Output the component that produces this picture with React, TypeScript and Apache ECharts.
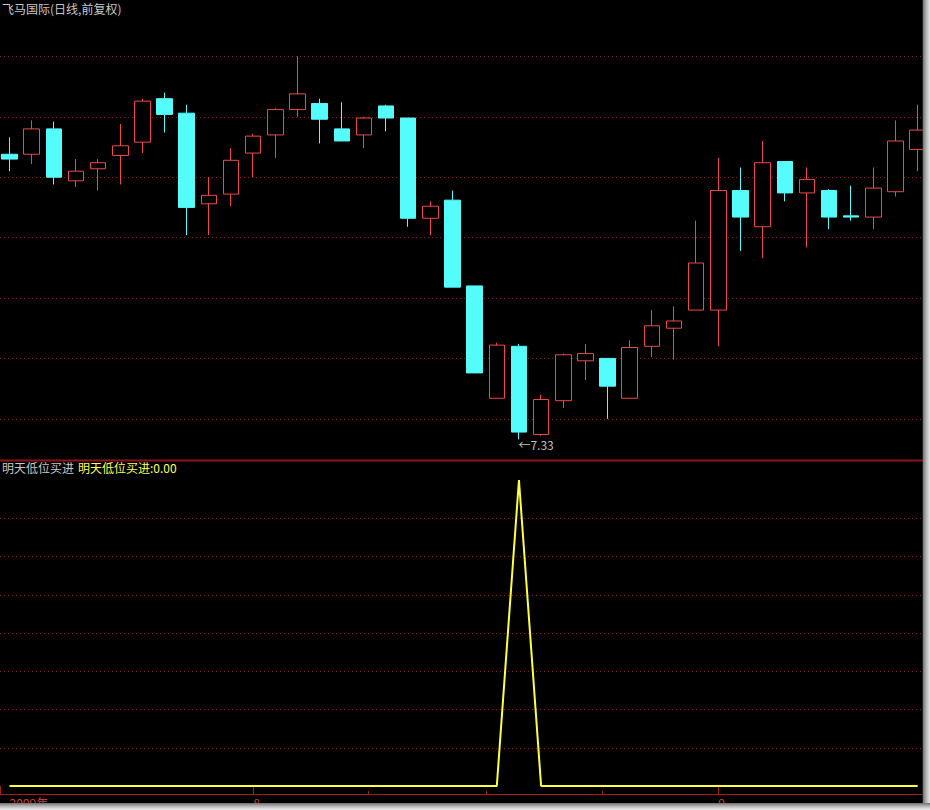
import React, { useEffect, useRef } from "react";
import * as echarts from "echarts";

// ---- data ----
const opens = [9.69, 9.69, 9.90, 9.47, 9.57, 9.68, 9.79, 10.15, 10.03, 9.28, 9.36, 9.70, 9.85, 10.06, 10.11, 9.90, 9.85, 10.09, 9.99, 9.16, 9.31, 8.60, 7.67, 8.10, 7.37, 7.65, 7.98, 8.00, 7.67, 8.10, 8.25, 8.40, 8.40, 9.39, 9.09, 9.63, 9.37, 9.39, 9.18, 9.17, 9.38, 9.73];
const closes = [9.65, 9.90, 9.50, 9.55, 9.62, 9.76, 10.13, 10.02, 9.25, 9.35, 9.64, 9.84, 10.06, 10.19, 9.98, 9.80, 9.99, 9.99, 9.16, 9.26, 8.59, 7.88, 8.11, 7.39, 7.66, 8.03, 8.04, 7.77, 8.09, 8.27, 8.31, 8.79, 9.39, 9.17, 9.62, 9.37, 9.48, 9.17, 9.17, 9.41, 9.80, 9.89];
const lows = [9.55, 9.61, 9.44, 9.42, 9.39, 9.44, 9.70, 9.87, 9.02, 9.02, 9.26, 9.50, 9.66, 10.00, 9.78, 9.80, 9.74, 9.88, 9.09, 9.02, 8.59, 7.88, 7.67, 7.33, 7.36, 7.59, 7.82, 7.50, 7.67, 8.01, 7.99, 8.40, 8.10, 8.89, 8.83, 9.30, 8.92, 9.07, 9.14, 9.07, 9.34, 9.55];
const highs = [9.83, 9.97, 9.96, 9.65, 9.65, 9.94, 10.15, 10.20, 10.10, 9.50, 9.74, 9.86, 10.07, 10.50, 10.15, 10.12, 10.00, 10.10, 9.99, 9.30, 9.39, 8.60, 8.13, 8.12, 7.70, 8.04, 8.12, 8.00, 8.15, 8.40, 8.43, 9.14, 9.66, 9.58, 9.80, 9.63, 9.58, 9.40, 9.43, 9.58, 9.97, 10.10];
const signal = [0, 0, 0, 0, 0, 0, 0, 0, 0, 0, 0, 0, 0, 0, 0, 0, 0, 0, 0, 0, 0, 0, 0, 1, 0, 0, 0, 0, 0, 0, 0, 0, 0, 0, 0, 0, 0, 0, 0, 0, 0, 0];
const dateLabels = ["2009年", "8", "9"];
const dateLabelIndex = [0, 11, 32];
const minorTickIndex = [16.19, 21.51, 26.75];

const TITLE = "飞马国际(日线,前复权)";
const IND_NAME = "明天低位买进";

const FONT = "'Noto Sans CJK SC', 'Noto Sans', sans-serif";
const X_MIN = -0.4289;
const X_MAX = 41.196;
const PRICE_MIN = 7;
const PRICE_MAX = 10.967;
const GRID_RED = "#8a1c1c";
const UP_RED = "#ee4848";
const DOWN_CYAN = "#54fcfc";

export default function App() {
  const ref = useRef<HTMLDivElement>(null);
  useEffect(() => {
    if (!ref.current) return;
    const chart = echarts.init(ref.current, null, { renderer: "svg" });

    const candleData = opens.map((o, i) => [i, o, closes[i], lows[i], highs[i]]);
    let minIdx = 0;
    lows.forEach((v, i) => {
      if (v < lows[minIdx]) minIdx = i;
    });
    const lineData = signal.map((v, i) => [i, v]);
    const last = signal[signal.length - 1];

    const dotted = { color: GRID_RED, type: [1, 3], width: 1 };

    const option: any = {
      animation: false,
      backgroundColor: "#000000",
      title: [
        { text: TITLE, left: 2, top: 2, padding: 0, textStyle: { color: "#c8c8c8", fontSize: 12, fontWeight: "normal", fontFamily: FONT } },
        { text: IND_NAME, left: 2, top: 461, padding: 0, textStyle: { color: "#c8c8c8", fontSize: 12, fontWeight: "normal", fontFamily: FONT } },
        { text: IND_NAME + ":" + last.toFixed(2), left: 78, top: 461, padding: 0, textStyle: { color: "#ffff50", fontSize: 12, fontWeight: "normal", fontFamily: FONT } },
      ],
      grid: [
        { left: 0, width: 922, top: 0, height: 479.2 },
        { left: 0, width: 922, top: 480, height: 306 },
      ],
      xAxis: [
        { gridIndex: 0, type: "value", min: X_MIN, max: X_MAX, show: false },
        {
          gridIndex: 1, type: "value", min: X_MIN, max: X_MAX, position: "bottom", offset: 8,
          axisLine: { show: true, onZero: false, lineStyle: { color: "#a81c1c", width: 1 } },
          axisTick: { show: true, inside: true, length: 3, customValues: minorTickIndex, lineStyle: { color: "#a81c1c" } },
          axisLabel: {
            show: true, customValues: dateLabelIndex, align: "left", margin: 2,
            color: "#d03a3a", fontSize: 12, fontFamily: FONT,
            formatter: (v: number) => {
              const k = dateLabelIndex.indexOf(Math.round(v));
              return k >= 0 ? dateLabels[k] : "";
            },
          },
          splitLine: { show: false },
        },
        {
          gridIndex: 1, type: "value", min: X_MIN, max: X_MAX, position: "bottom", offset: 8,
          axisLine: { show: false },
          axisTick: { show: true, inside: false, length: 9, customValues: [X_MIN + 0.03, ...dateLabelIndex.slice(1)], lineStyle: { color: "#a81c1c" } },
          axisLabel: { show: false },
          splitLine: { show: false },
        },
      ],
      yAxis: [
        {
          gridIndex: 0, type: "value", min: PRICE_MIN, max: PRICE_MAX, interval: 0.5,
          axisLine: { show: false }, axisTick: { show: false }, axisLabel: { show: false },
          splitLine: { show: true, showMinLine: false, showMaxLine: false, lineStyle: dotted },
        },
        {
          gridIndex: 1, type: "value", min: 0, max: 1, interval: 0.125,
          axisLine: { show: false }, axisTick: { show: false }, axisLabel: { show: false },
          splitLine: { show: true, showMinLine: false, showMaxLine: false, lineStyle: dotted },
        },
      ],
      series: [
        {
          type: "candlestick",
          xAxisIndex: 0,
          yAxisIndex: 0,
          encode: { x: 0, y: [1, 2, 3, 4] },
          barWidth: 16,
          clip: true,
          data: candleData,
          itemStyle: {
            color: "#000000",
            color0: DOWN_CYAN,
            borderColor: UP_RED,
            borderColor0: DOWN_CYAN,
            borderWidth: 1,
          },
          markPoint: {
            symbol: "rect",
            symbolSize: [1, 1],
            itemStyle: { color: "rgba(0,0,0,0)" },
            label: {
              show: true,
              position: "right",
              distance: 0,
              offset: [-1, 5],
              color: "#c0c0c0",
              fontSize: 12,
              fontFamily: FONT,
              formatter: () => "←" + lows[minIdx].toFixed(2),
            },
            data: [{ coord: [minIdx, lows[minIdx]], value: lows[minIdx] }],
          },
        },
        {
          type: "line",
          xAxisIndex: 1,
          yAxisIndex: 1,
          data: lineData,
          symbol: "none",
          lineStyle: { color: "#ffff40", width: 2 },
        },
      ],
      graphic: [
        { type: "line", z: 50, shape: { x1: 0, y1: 460.5, x2: 923, y2: 460.5 }, style: { stroke: "#901414", lineWidth: 2 } },
        {
          type: "rect", z: 100, shape: { x: 922.7, y: 0, width: 8, height: 810 },
          style: { fill: new echarts.graphic.LinearGradient(0, 0, 1, 0, [
            { offset: 0, color: "#6e6e6e" }, { offset: 0.45, color: "#b4b4b4" }, { offset: 1, color: "#f2f2f2" },
          ]) },
        },
        {
          type: "rect", z: 100, shape: { x: 0, y: 803, width: 930, height: 7 },
          style: { fill: new echarts.graphic.LinearGradient(0, 0, 0, 1, [
            { offset: 0, color: "#6e6e6e" }, { offset: 0.45, color: "#b4b4b4" }, { offset: 1, color: "#f2f2f2" },
          ]) },
        },
      ],
    };
    chart.setOption(option);
    return () => chart.dispose();
  }, []);

  return (
    <div
      ref={ref}
      style={{ position: "absolute", left: 0, top: 0, width: 930, height: 810, background: "#ffffff" }}
    />
  );
}
